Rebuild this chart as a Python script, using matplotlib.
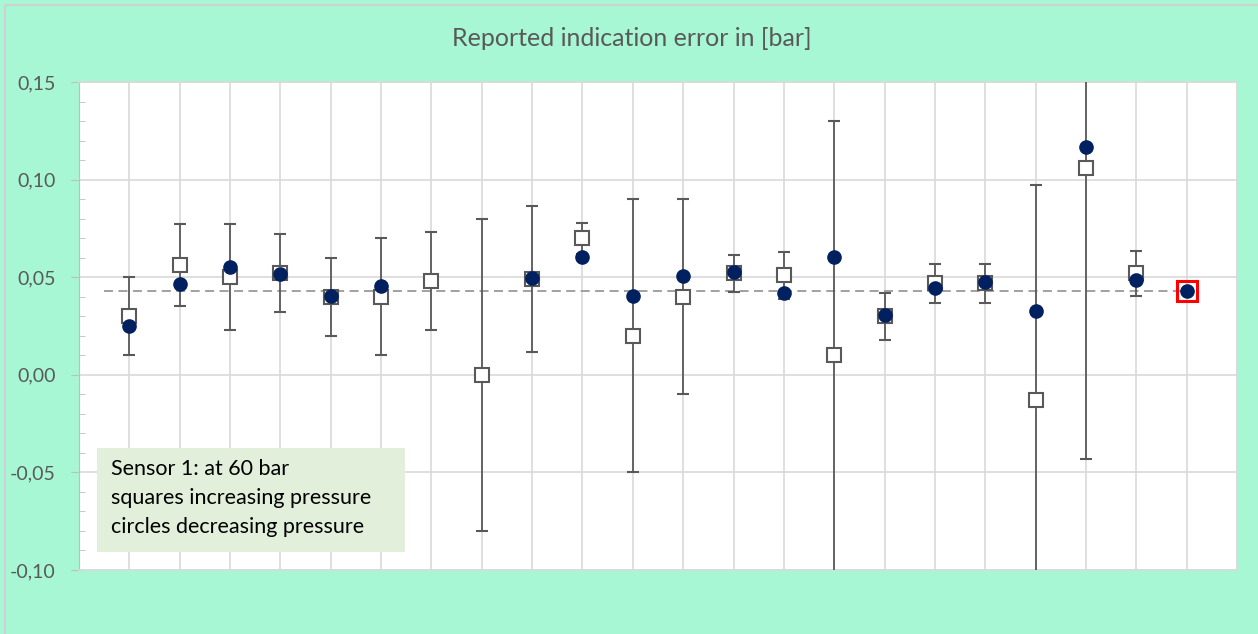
import numpy as np
import matplotlib
matplotlib.use("Agg")
import matplotlib.pyplot as plt
from matplotlib.patches import Rectangle
from matplotlib.ticker import MultipleLocator, FuncFormatter

plt.rcParams["font.family"] = ["Lato", "DejaVu Sans"]

# --- data ---
points = np.arange(1, 23)
increasing = [0.030, 0.056, 0.050, 0.052, 0.040, 0.040, 0.048, 0.000, 0.049, 0.070, 0.020,
              0.040, 0.052, 0.051, 0.010, 0.030, 0.047, 0.047, -0.013, 0.106, 0.052, np.nan]
increasing_err = [0.020, 0.021, 0.027, 0.020, 0.020, 0.030, 0.025, 0.080, 0.0375, 0.008, 0.070,
                  0.050, 0.0095, 0.012, 0.120, 0.012, 0.010, 0.010, 0.110, 0.149, 0.0115, np.nan]
decreasing = [0.025, 0.0465, 0.0553, 0.0514, 0.0403, 0.0454, np.nan, np.nan, 0.0497, 0.0605, 0.0405,
              0.0506, 0.0526, 0.0417, 0.0605, 0.0304, 0.0446, 0.0477, 0.0326, 0.1165, 0.0485, 0.043]
mean_value = 0.043
mean_point = 22
title = "Reported indication error in [bar]"
note = "Sensor 1: at 60 bar\nsquares increasing pressure\ncircles decreasing pressure"

BG = "#A7F7D4"
GRID = "#D9D9D9"
TXT = "#595959"

fig = plt.figure(figsize=(12.58, 6.34), dpi=100, facecolor=BG)
# chart border (only top/left edges fall inside the image)
fig.patches.append(Rectangle((5 / 1258, -0.1), 1.2, 1.1 - 5 / 634, transform=fig.transFigure,
                             fill=False, edgecolor="#D0D0D0", lw=1.5, zorder=0))
ax = fig.add_axes([79 / 1258, 64 / 634, 1158 / 1258, 488 / 634])
ax.set_facecolor("white")

ax.set_xlim(0, 23)
ax.set_ylim(-0.10, 0.15)

ax.xaxis.set_major_locator(MultipleLocator(1))
ax.yaxis.set_major_locator(MultipleLocator(0.05))
ax.yaxis.set_minor_locator(MultipleLocator(0.01))
ax.grid(True, which="major", color=GRID, lw=1.2, zorder=0)
ax.set_axisbelow(True)
ax.tick_params(axis="x", bottom=False, labelbottom=False)
ax.tick_params(axis="y", which="major", direction="out", length=6, color="#BFBFBF",
               labelsize=14, labelcolor=TXT, pad=11)
ax.tick_params(axis="y", which="minor", direction="in", length=4, color="#BFBFBF")
ax.yaxis.set_major_formatter(FuncFormatter(lambda v, p: f"{v:.2f}".replace(".", ",")))
for side in ["top", "right", "bottom"]:
    ax.spines[side].set_color(GRID)
    ax.spines[side].set_linewidth(1.2)
ax.spines["left"].set_color("#BFBFBF")

# mean reference line
ax.hlines(mean_value, 0.5, mean_point, colors="#9A9A9A", linestyles=(0, (5, 3)), lw=1.3, zorder=2)

ax.errorbar(points, increasing, yerr=increasing_err, fmt="s", ms=10, mfc="white", mec=TXT,
            mew=1.5, ecolor=TXT, elinewidth=1.3, capsize=4, capthick=1.3, zorder=3)
ax.plot(points, decreasing, "o", ms=9.5, color="#002060", zorder=4)
ax.plot([mean_point], [mean_value], "s", ms=14, mfc="none", mec="#FF0000", mew=2.2, zorder=3.5)

fig.text(632 / 1258, 1 - 38 / 634, title, ha="center", va="center", fontsize=18, color=TXT)

# note box
ax.add_patch(Rectangle((0.357, -0.0908), 6.11, 0.0532, fc="#E2EFDA", ec="none", zorder=5))
ax.text(0.636, -0.0632, note, ha="left", va="center", fontsize=15.5, color="black",
        linespacing=1.55, zorder=6)

fig.savefig("out.png", dpi=100, facecolor=BG)
